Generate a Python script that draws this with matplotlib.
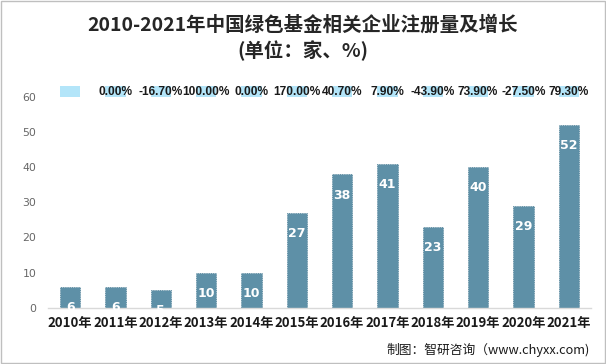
import matplotlib
matplotlib.use("Agg")
import matplotlib.pyplot as plt
from matplotlib.patches import Rectangle

plt.rcParams['font.family'] = ['Noto Sans CJK SC', 'DejaVu Sans']

years = ["2010年", "2011年", "2012年", "2013年", "2014年", "2015年",
         "2016年", "2017年", "2018年", "2019年", "2020年", "2021年"]
counts = [6, 6, 5, 10, 10, 27, 38, 41, 23, 40, 29, 52]
growth = ["", "0.00%", "-16.70%", "100.00%", "0.00%", "170.00%", "40.70%",
          "7.90%", "-43.90%", "73.90%", "-27.50%", "79.30%"]
yticks = [0, 10, 20, 30, 40, 50, 60]

bar_color = "#5E90A7"
light_blue = "#B3E5F9"

fig = plt.figure(figsize=(6.06, 3.64), dpi=100)
ax = fig.add_axes([0.0785, 0.1547, 0.8974, 0.5791])

x = list(range(len(years)))
ax.bar(x, counts, width=0.45, color=bar_color, edgecolor="#4C7D95",
       linewidth=0.6, linestyle=":", zorder=2)

# light blue growth-row boxes above the plot area
ax.bar(x, [3.2] * len(x), bottom=60, width=0.45, color=light_blue,
       clip_on=False, zorder=1)

for xi, v in zip(x, counts):
    ax.annotate(str(v), (xi, v), xytext=(0, -15), textcoords="offset points",
                ha="center", va="center", color="white", fontsize=9,
                fontweight="bold", family=["DejaVu Sans"], zorder=3)

for xi, g in zip(x, growth):
    if g:
        ax.text(xi, 61.4, g, ha="center", va="center", fontsize=8.6,
                fontweight="bold", color="#1A1A1A",
                family=["Liberation Sans"], clip_on=False, zorder=4)

ax.set_xlim(-0.5, len(years) - 0.5)
ax.set_ylim(0, 60)
ax.set_yticks(yticks)
ax.set_xticks(x)
ax.set_xticklabels(years, fontsize=9.5, fontweight="bold", color="#1A1A1A")
for lab in ax.get_yticklabels():
    lab.set_family(["DejaVu Sans"])
ax.tick_params(axis="y", length=0, pad=8, labelsize=7.8, labelcolor="#666666")
ax.tick_params(axis="x", length=0, pad=6)
for s in ["top", "right", "left"]:
    ax.spines[s].set_visible(False)
ax.spines["bottom"].set_color("#D9D9D9")
ax.spines["bottom"].set_linewidth(1)

fig.text(0.5, 1 - 25 / 364, "2010-2021年中国绿色基金相关企业注册量及增长",
         ha="center", va="center", fontsize=14, fontweight="bold", color="#262626")
fig.text(0.5, 1 - 51 / 364, "(单位：家、%)",
         ha="center", va="center", fontsize=14, fontweight="bold", color="#262626")
fig.text(590 / 606, 1 - 350 / 364, "制图：智研咨询（www.chyxx.com)",
         ha="right", va="center", fontsize=9.2, color="#1A1A1A")

fig.patches.append(Rectangle((0.001, 0.004), 0.997, 0.994, transform=fig.transFigure,
                             fill=False, edgecolor="#BFBFBF", linewidth=1))

fig.savefig("out.png", dpi=100)
